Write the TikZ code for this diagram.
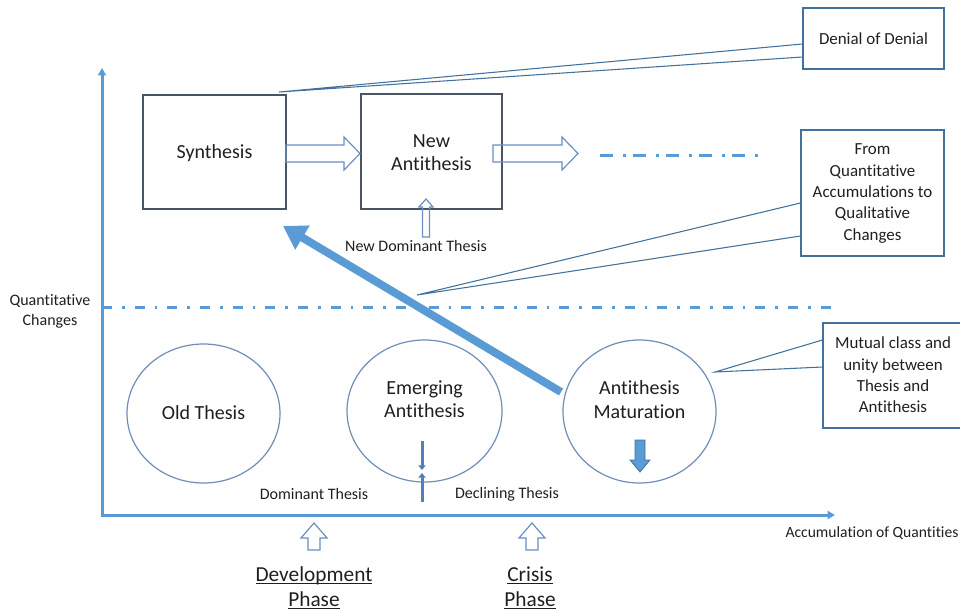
\documentclass[tikz,border=0pt]{standalone}
\usepackage{fontspec}
\setmainfont[Ligatures=NoCommon]{Carlito}
\usetikzlibrary{arrows.meta,calc,shapes.geometric}
\definecolor{axisblue}{HTML}{5B9BD5}
\definecolor{deepblue}{HTML}{4F81BD}
\definecolor{frameline}{HTML}{4A5563}
\definecolor{ringline}{HTML}{6F8DB8}
\definecolor{calloutline}{HTML}{41719C}
\definecolor{hollowline}{HTML}{6A8FC0}
\definecolor{inkdark}{HTML}{1F1F1F}
% underline at a fixed depth below the baseline
\newcommand\ulword[1]{\setbox0=\hbox{#1}\rlap{\rule[-2.2pt]{\wd0}{0.75pt}}\box0}

\begin{document}
\begin{tikzpicture}[x=0.75pt,y=-0.75pt,
  bigtext/.style={font=\fontsize{15}{17.5}\selectfont, text=inkdark, align=center},
  calltext/.style={font=\fontsize{12.7}{16}\selectfont, text=inkdark, align=center},
  smalltext/.style={font=\fontsize{12}{15}\selectfont, text=inkdark, align=center},
  phasetext/.style={font=\fontsize{16}{18.75}\selectfont, text=inkdark, align=center},
  stagebox/.style={draw=frameline, line width=1.1pt, inner sep=0pt},
  callout/.style={draw=calloutline, line width=0.9pt, inner sep=0pt},
  ring/.style={ellipse, draw=ringline, line width=0.9pt, inner sep=0pt},
  pointer/.style={draw=calloutline, line width=0.8pt, line join=miter},
  hollow/.style={draw=hollowline, line width=0.9pt, line join=miter},
  axisline/.style={draw=axisblue, line width=2.25pt, line join=miter},
  dashdotlow/.style={draw=axisblue, line width=2.25pt, dash pattern=on 7.5pt off 7.5pt on 2pt off 7.5pt},
  dashdothigh/.style={draw=axisblue, line width=2.25pt, dash pattern=on 9.75pt off 7.5pt on 2pt off 5.5pt},
]
\useasboundingbox (0,0) rectangle (960,612);

% axes
\coordinate (origin) at (102,515);
\coordinate (ytip) at (102,68);
\coordinate (xtip) at (835,515);
\draw[axisline, {Triangle[length=5.5pt,width=6pt]}-{Triangle[length=5.5pt,width=6pt]}] (ytip) -- (origin) -- (xtip);

% threshold and continuation lines
\coordinate (thrA) at (102,307);
\coordinate (thrB) at (835,307);
\draw[dashdotlow] (thrA) -- (thrB);
\coordinate (contA) at (600,155);
\coordinate (contB) at (760,155);
\draw[dashdothigh] (contA) -- (contB);

% axis labels
\node[smalltext] (qc) at (50,311) {Quantitative\\Changes};
\node[smalltext, font=\fontsize{11.7}{14}\selectfont] (acc) at (872,533) {Accumulation of Quantities};

% upper stages
\node[stagebox, minimum width=107.25pt, minimum height=85.5pt] (syn) at (214.5,152) {};
\node[bigtext] (syntxt) at (214.5,153) {Synthesis};
\node[stagebox, minimum width=105.75pt, minimum height=86.25pt] (na) at (431.5,151.5) {};
\node[bigtext] (natxt) at (431.5,152.5) {New\\Antithesis};

% hollow block arrows between the upper stages
\draw[hollow] (286,145) -- (344,145) -- (344,137) -- (360,153.5) -- (344,170) -- (344,162) -- (286,162) -- cycle;
\draw[hollow] (493,145) -- (562,145) -- (562,137) -- (578,153.5) -- (562,170) -- (562,162) -- (493,162) -- cycle;
\draw[hollow] (422.5,237) -- (422.5,207) -- (419,207) -- (426,199) -- (433,207) -- (429.5,207) -- (429.5,237) -- cycle;
\node[smalltext] (ndt) at (416,246) {New Dominant Thesis};

% lower stages
\node[ring, minimum width=114.75pt, minimum height=104.25pt] (old) at (203.5,413.5) {};
\node[bigtext] (oldtxt) at (203.5,413) {Old Thesis};
\node[ring, minimum width=116.25pt, minimum height=106.5pt] (emg) at (424.5,411) {};
\node[bigtext] (emgtxt) at (424.5,399.5) {Emerging\\Antithesis};
\node[ring, minimum width=114.75pt, minimum height=107.25pt] (mat) at (639.5,411.5) {};
\node[bigtext] (mattxt) at (639.5,399.5) {Antithesis\\Maturation};

% opposing arrows at the foot of the emerging antithesis
\coordinate (emgA) at (422,441);
\coordinate (emgB) at (422,470);
\coordinate (emgC) at (422,502);
\coordinate (emgD) at (422,473);
\draw[deepblue, line width=2.25pt, -{Triangle[length=3.5pt,width=5.5pt]}] (emgA) -- (emgB);
\draw[deepblue, line width=2.25pt, -{Triangle[length=3.5pt,width=5.5pt]}] (emgC) -- (emgD);

% solid block arrow inside the maturation ring
\filldraw[fill=axisblue, draw=calloutline, line width=0.6pt, line join=miter]
  (635,440) -- (645,440) -- (645,460) -- (650,460) -- (640,472) -- (630,460) -- (635,460) -- cycle;

% leap from maturation to synthesis
\coordinate (leapA) at (561,392);
\coordinate (leapB) at (283,226);
\draw[axisblue, line width=6pt, -{Triangle[length=17pt,width=20pt]}] (leapA) -- (leapB);

% thesis labels along the axis
\node[smalltext] (dom) at (314,494) {Dominant Thesis};
\node[smalltext] (dec) at (507,494) {Declining Thesis};

% phase markers under the axis
\draw[hollow] (308,550) -- (308,538) -- (301,538) -- (314,523) -- (327,538) -- (320,538) -- (320,550) -- cycle;
\draw[hollow] (526,550) -- (526,538) -- (519,538) -- (532,523) -- (545,538) -- (538,538) -- (538,550) -- cycle;
\node[phasetext] (dev) at (314,588) {\ulword{Development}\\\ulword{Phase}};
\node[phasetext] (cri) at (530,588) {\ulword{Crisis}\\\ulword{Phase}};

% callouts
\node[callout, minimum width=105.75pt, minimum height=45.75pt] (den) at (873.5,38.5) {};
\node[calltext] (dentxt) at (873.5,38.5) {Denial of Denial};
\coordinate (denApex) at (279,92);
\draw[pointer] ($(den.west)+(0,5.5)$) -- (denApex) -- ($(den.west)+(0,18.5)$);

\node[callout, minimum width=107.25pt, minimum height=94.5pt] (fq) at (872.5,193) {};
\node[calltext] (fqtxt) at (872.5,193.5) {From\\Quantitative\\Accumulations to\\Qualitative\\Changes};
\coordinate (fqApex) at (417,295);
\draw[pointer] ($(fq.west)+(0,10)$) -- (fqApex) -- ($(fq.west)+(0,43)$);

\node[callout, minimum width=105pt, minimum height=78.75pt] (mu) at (893,375.5) {};
\node[calltext] (mutxt) at (893,375) {Mutual class and\\unity between\\Thesis and\\Antithesis};
\coordinate (muApex) at (715,372);
\draw[pointer] ($(mu.west)+(0,-35.5)$) -- (muApex) -- ($(mu.west)+(0,-8.5)$);

\end{tikzpicture}
\end{document}
